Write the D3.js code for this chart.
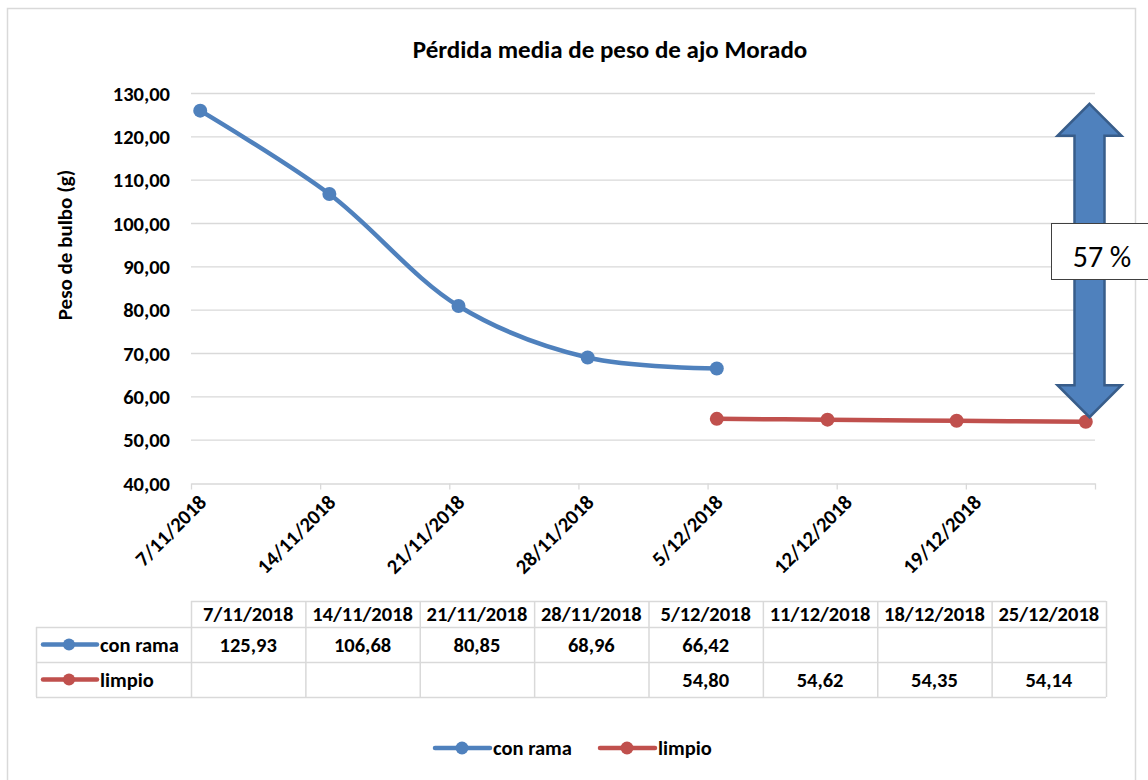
<!DOCTYPE html>
<html>
<head>
<meta charset="utf-8">
<script src="https://cdn.jsdelivr.net/npm/d3@7"></script>
<style>
  body { margin: 0; background: #fff; }
  svg text { font-family: Carlito, Lato, "Open Sans", sans-serif; fill: #000; }
</style>
</head>
<body>
<div id="chart"></div>
<script>
// data
var dateLabels = ["7/11/2018", "14/11/2018", "21/11/2018", "28/11/2018", "5/12/2018", "11/12/2018", "18/12/2018", "25/12/2018"]
var conRama = [125.93, 106.68, 80.85, 68.96, 66.42, null, null, null]
var limpio = [null, null, null, null, 54.80, 54.62, 54.35, 54.14]
var seriesNames = ["con rama", "limpio"]
var seriesColors = ["#4f81bd", "#c0504d"]
var yTickValues = [40, 50, 60, 70, 80, 90, 100, 110, 120, 130]

var width = 1148,
    height = 780

var parseDate = d3.timeParse("%-d/%-m/%Y")
var fmtTick = d3.timeFormat("%-d/%m/%Y")
var fmtNum = function(v) { return d3.format(".2f")(v).replace(".", ",") }

var svg = d3.select("#chart")
  .append("svg")
    .attr("width", width)
    .attr("height", height)

// chart area border
svg.append("rect")
  .attr("x", 7.5).attr("y", 8.5)
  .attr("width", 1128).attr("height", 790)
  .attr("fill", "none")
  .attr("stroke", "#d9d9d9")
  .attr("stroke-width", 1.5)

// scales: date axis, points sit in the middle of their day
var start = parseDate(dateLabels[0])
var end = d3.timeDay.offset(parseDate(dateLabels[dateLabels.length - 1]), 1)
var x = d3.scaleTime()
  .domain([start, end])
  .range([191, 1095])
var y = d3.scaleLinear()
  .domain([40, 130])
  .range([483, 93])

var midDay = function(s) { return d3.timeHour.offset(parseDate(s), 12) }

// gridlines
svg.append("g")
  .selectAll("line")
  .data(yTickValues.slice(1))
  .enter()
  .append("line")
    .attr("x1", 191).attr("x2", 1095)
    .attr("y1", function(d) { return y(d) + 0.5 })
    .attr("y2", function(d) { return y(d) + 0.5 })
    .attr("stroke", "#d9d9d9")
    .attr("stroke-width", 1.3)

// y axis labels
var yAxis = svg.append("g")
  .attr("transform", "translate(170,0)")
  .call(d3.axisLeft(y).tickValues(yTickValues).tickSize(0).tickPadding(0).tickFormat(fmtNum))
yAxis.select(".domain").remove()
yAxis.selectAll("text")
  .attr("x", 0)
  .attr("dy", "0.35em")
  .style("font-size", "20.5px")
  .style("font-weight", "bold")
  .style("font-family", "Carlito, Lato, sans-serif")

// x axis
var tickDates = d3.timeDay.range(start, d3.timeDay.offset(end, 1), 7)
var xAxis = svg.append("g")
  .attr("transform", "translate(0,483.5)")
  .call(d3.axisBottom(x).tickValues(tickDates).tickSize(6).tickSizeOuter(0)
    .tickFormat(function(d, i) { return i < tickDates.length - 1 ? fmtTick(d) : "" }))
xAxis.selectAll("line, path").attr("stroke", "#d9d9d9").attr("stroke-width", 1.3)
xAxis.selectAll("text")
  .attr("text-anchor", "end")
  .attr("transform", "translate(6,10) rotate(-45)")
  .attr("y", 0).attr("dy", "0.7em")
  .style("font-size", "20.5px")
  .style("font-weight", "bold")
  .style("font-family", "Carlito, Lato, sans-serif")

// title
svg.append("text")
  .attr("x", 610).attr("y", 58)
  .attr("text-anchor", "middle")
  .style("font-size", "25px")
  .style("font-weight", "bold")
  .text("Pérdida media de peso de ajo Morado")

// y axis title
svg.append("text")
  .attr("transform", "translate(72,245) rotate(-90)")
  .attr("text-anchor", "middle")
  .style("font-size", "21px")
  .style("font-weight", "bold")
  .text("Peso de bulbo (g)")

// lines
var line = d3.line()
  .defined(function(d) { return d.v != null })
  .x(function(d) { return x(midDay(d.date)) })
  .y(function(d) { return y(d.v) })
  .curve(d3.curveCatmullRom.alpha(0.5))

var series = [conRama, limpio].map(function(vals, k) {
  return {
    name: seriesNames[k],
    color: seriesColors[k],
    points: vals.map(function(v, i) { return { date: dateLabels[i], v: v } })
  }
})

series.forEach(function(s) {
  var pts = s.points.filter(function(d) { return d.v != null })
  svg.append("path")
    .attr("d", line(pts))
    .attr("fill", "none")
    .attr("stroke", s.color)
    .attr("stroke-width", 4.5)
    .attr("stroke-linecap", "round")
  svg.selectAll(null)
    .data(pts)
    .enter()
    .append("circle")
      .attr("cx", function(d) { return x(midDay(d.date)) })
      .attr("cy", function(d) { return y(d.v) })
      .attr("r", 7)
      .attr("fill", s.color)
})

// double arrow annotation showing the loss
var first = conRama[0], last = limpio[limpio.length - 1]
var pct = Math.round((first - last) / first * 100)
var ax = 1089.5, arrowTop = y(127.5), arrowBot = y(55.2)
var shaftW = 15, headW = 32, headH = 32
var arrowPts = [
  [ax, arrowTop], [ax + headW, arrowTop + headH], [ax + shaftW, arrowTop + headH],
  [ax + shaftW, arrowBot - headH], [ax + headW, arrowBot - headH], [ax, arrowBot],
  [ax - headW, arrowBot - headH], [ax - shaftW, arrowBot - headH], [ax - shaftW, arrowTop + headH],
  [ax - headW, arrowTop + headH]
]
svg.append("path")
  .attr("d", "M" + arrowPts.join("L") + "Z")
  .attr("fill", "#4f81bd")
  .attr("stroke", "#385d8a")
  .attr("stroke-width", 2.5)
  .attr("stroke-linejoin", "miter")

svg.append("rect")
  .attr("x", 1051.5).attr("y", 223.5)
  .attr("width", 110).attr("height", 56)
  .attr("fill", "#fff")
  .attr("stroke", "#404040")
  .attr("stroke-width", 1)
svg.append("text")
  .attr("x", 1102).attr("y", 267)
  .attr("text-anchor", "middle")
  .style("font-size", "30px")
  .text(pct + " %")

// data table under the axis
var col = d3.scaleBand().domain(dateLabels).range([191, 1106])
var rowY = [601, 627, 662, 697]
var tableColor = "#d9d9d9"
var tbl = svg.append("g")

// horizontal rules
tbl.selectAll(null)
  .data(rowY)
  .enter()
  .append("line")
    .attr("x1", function(d, i) { return i == 0 ? 191 : 36 })
    .attr("x2", 1106)
    .attr("y1", function(d) { return d + 0.5 })
    .attr("y2", function(d) { return d + 0.5 })
    .attr("stroke", tableColor)
    .attr("stroke-width", 1.5)
// vertical rules
var vx = dateLabels.map(function(d) { return col(d) }).concat([1106])
tbl.selectAll(null)
  .data(vx)
  .enter()
  .append("line")
    .attr("x1", function(d) { return d + 0.5 })
    .attr("x2", function(d) { return d + 0.5 })
    .attr("y1", rowY[0]).attr("y2", rowY[3])
    .attr("stroke", tableColor)
    .attr("stroke-width", 1.5)
tbl.append("line")
  .attr("x1", 36.5).attr("x2", 36.5)
  .attr("y1", rowY[1]).attr("y2", rowY[3])
  .attr("stroke", tableColor)
  .attr("stroke-width", 1.5)

// header cells
tbl.selectAll(null)
  .data(dateLabels)
  .enter()
  .append("text")
    .attr("x", function(d) { return col(d) + col.bandwidth() / 2 })
    .attr("y", (rowY[0] + rowY[1]) / 2)
    .attr("dy", "0.35em")
    .attr("text-anchor", "middle")
    .style("font-size", "20.5px")
    .style("font-weight", "bold")
    .text(function(d) { return d })

series.forEach(function(s, k) {
  var cy = (rowY[k + 1] + rowY[k + 2]) / 2
  tbl.append("line")
    .attr("x1", 43).attr("x2", 97)
    .attr("y1", cy).attr("y2", cy)
    .attr("stroke", s.color).attr("stroke-width", 4.5)
    .attr("stroke-linecap", "round")
  tbl.append("circle")
    .attr("cx", 69).attr("cy", cy).attr("r", 6)
    .attr("fill", s.color)
  tbl.append("text")
    .attr("x", 100).attr("y", cy)
    .attr("dy", "0.35em")
    .style("font-size", "20.5px")
    .style("font-weight", "bold")
    .text(s.name)
  tbl.selectAll(null)
    .data(s.points.filter(function(d) { return d.v != null }))
    .enter()
    .append("text")
      .attr("x", function(d) { return col(d.date) + col.bandwidth() / 2 })
      .attr("y", cy)
      .attr("dy", "0.35em")
      .attr("text-anchor", "middle")
      .style("font-size", "20.5px")
      .style("font-weight", "bold")
      .text(function(d) { return fmtNum(d.v) })
})

// legend
var legX = [435, 600]
var legend = svg.append("g")
series.forEach(function(s, k) {
  var lx = legX[k], ly = 748
  legend.append("line")
    .attr("x1", lx).attr("x2", lx + 55)
    .attr("y1", ly).attr("y2", ly)
    .attr("stroke", s.color).attr("stroke-width", 4.5)
    .attr("stroke-linecap", "round")
  legend.append("circle")
    .attr("cx", lx + 27).attr("cy", ly).attr("r", 6.5)
    .attr("fill", s.color)
  legend.append("text")
    .attr("x", lx + 58).attr("y", ly)
    .attr("dy", "0.35em")
    .style("font-size", "20.5px")
    .style("font-weight", "bold")
    .text(s.name)
})
</script>
</body>
</html>
